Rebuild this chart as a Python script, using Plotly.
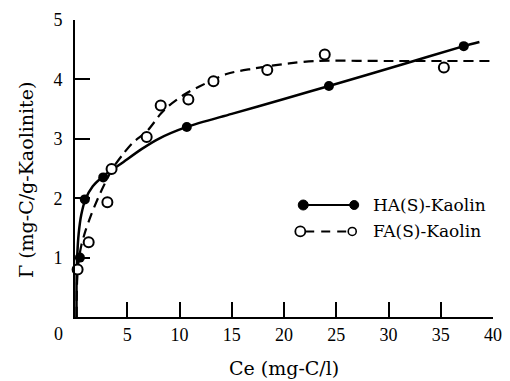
import plotly.graph_objects as go

ha_ce = [0.47, 0.94, 2.7, 10.7, 24.3, 37.2]
ha_gamma = [1.00, 1.98, 2.35, 3.20, 3.89, 4.56]
fa_ce = [0.25, 1.31, 3.1, 3.5, 6.86, 8.2, 10.85, 13.25, 18.4, 23.9, 35.3]
fa_gamma = [0.80, 1.26, 1.93, 2.49, 3.03, 3.56, 3.66, 3.97, 4.16, 4.42, 4.20]

# Fitted curves as drawn in the figure
ha_fit_ce = [0.15, 0.15, 0.22, 0.35, 0.6, 1.0, 1.7, 2.7, 4.4, 6.4, 8.0, 10.7, 15.0, 20.0, 24.3, 31.3, 37.2, 38.7]
ha_fit_g = [0.0, 0.6, 1.05, 1.4, 1.72, 1.98, 2.2, 2.37, 2.58, 2.83, 3.0, 3.2, 3.42, 3.67, 3.89, 4.25, 4.56, 4.63]
fa_fit_ce = [0.15, 0.2, 0.35, 0.6, 1.0, 1.5, 2.2, 3.0, 3.6, 4.5, 5.5, 6.9, 8.2, 9.0, 10.5, 11.9, 14.5, 17.0, 20.5, 23.0, 30.0, 40.0]
fa_fit_g = [0.0, 0.6, 0.95, 1.2, 1.45, 1.7, 2.0, 2.3, 2.5, 2.72, 2.93, 3.13, 3.42, 3.56, 3.75, 3.88, 4.09, 4.18, 4.27, 4.31, 4.31, 4.31]

x_ticks = [5, 10, 15, 20, 25, 30, 35, 40]
y_ticks = [1, 2, 3, 4, 5]
series_names = ["HA(S)-Kaolin", "FA(S)-Kaolin"]

W, H = 510, 381
L, R, T, B = 75, 8.3, 19.5, 63.7
PW, PH = W - L - R, H - T - B

def px(x):
    return (x - L) / PW

def py(y):
    return (H - B - y) / PH

TICKFONT = dict(family="Liberation Serif, Times New Roman, serif", size=18, color="black")
TEXTFONT = "DejaVu Serif, serif"

fig = go.Figure()
fig.add_trace(go.Scatter(x=ha_fit_ce, y=ha_fit_g, mode="lines", line=dict(color="black", width=2.5, shape="spline", smoothing=0.8),
                         showlegend=False, cliponaxis=False, hoverinfo="skip"))
fig.add_trace(go.Scatter(x=fa_fit_ce, y=fa_fit_g, mode="lines", line=dict(color="black", width=2.2, dash="10px,6px", shape="spline", smoothing=0.8),
                         showlegend=False, cliponaxis=False, hoverinfo="skip"))
fig.add_trace(go.Scatter(x=ha_ce, y=ha_gamma, mode="markers", name=series_names[0],
                         marker=dict(symbol="circle", size=10, color="black"), showlegend=False, cliponaxis=False))
fig.add_trace(go.Scatter(x=fa_ce, y=fa_gamma, mode="markers", name=series_names[1],
                         marker=dict(symbol="circle", size=10, color="white", line=dict(color="black", width=2)),
                         showlegend=False, cliponaxis=False))

shapes = []
# custom legend keys
r1, r2 = 205, 231.5
shapes.append(dict(type="line", xref="paper", yref="paper", x0=px(308), x1=px(360), y0=py(r1), y1=py(r1),
                   line=dict(color="black", width=2)))
shapes.append(dict(type="line", xref="paper", yref="paper", x0=px(310), x1=px(354), y0=py(r2), y1=py(r2),
                   line=dict(color="black", width=2, dash="9px,7px")))
def circ(cx, cy, d, fill, lw):
    return dict(type="circle", xref="paper", yref="paper", xsizemode="pixel", ysizemode="pixel",
                xanchor=px(cx), yanchor=py(cy), x0=-d/2, x1=d/2, y0=-d/2, y1=d/2,
                fillcolor=fill, line=dict(color="black", width=lw))
shapes.append(circ(308, r1, 10, "black", 1))
shapes.append(circ(360, r1, 9, "black", 1))
shapes.append(circ(305, r2, 10, "white", 1.8))
shapes.append(circ(358, r2, 8, "white", 1.6))

annotations = [
    dict(text=series_names[0], xref="paper", yref="paper", x=px(377), y=py(r1), xanchor="left", yanchor="middle",
         showarrow=False, font=dict(family=TEXTFONT, size=17, color="black")),
    dict(text=series_names[1], xref="paper", yref="paper", x=px(377), y=py(r2), xanchor="left", yanchor="middle",
         showarrow=False, font=dict(family=TEXTFONT, size=17, color="black")),
    dict(text="Ce (mg-C/l)", xref="paper", yref="paper", x=px(288), y=py(368), xanchor="center", yanchor="middle",
         showarrow=False, font=dict(family=TEXTFONT, size=19, color="black")),
    dict(text="Γ (mg-C/g-Kaolinite)", xref="paper", yref="paper", x=px(25), y=py(180), xanchor="center", yanchor="middle",
         textangle=-90, showarrow=False, font=dict(family=TEXTFONT, size=19, color="black")),
    dict(text="0", xref="paper", yref="paper", x=px(58), y=py(334), xanchor="center", yanchor="middle",
         showarrow=False, font=TICKFONT),
]

fig.update_layout(
    width=W, height=H, margin=dict(l=L, r=R, t=T, b=B, pad=0),
    paper_bgcolor="white", plot_bgcolor="white",
    shapes=shapes, annotations=annotations, showlegend=False,
    xaxis=dict(range=[0, 40], tickvals=x_ticks, ticktext=[str(v) for v in x_ticks], ticks="inside", ticklen=15,
               tickwidth=1.5, tickcolor="black", showline=True, linecolor="black", linewidth=2, showgrid=False,
               zeroline=False, tickfont=TICKFONT, ticklabelstandoff=0, ticklabeloverflow="allow"),
    yaxis=dict(range=[0, 5], tickvals=y_ticks, ticktext=[str(v) for v in y_ticks], ticks="inside", ticklen=15,
               tickwidth=1.5, tickcolor="black", showline=True, linecolor="black", linewidth=2, showgrid=False,
               zeroline=False, tickfont=TICKFONT, ticklabelstandoff=7, ticklabeloverflow="allow"),
)

fig.write_html("out.html", config={"displayModeBar": False})

# remove default page margins so the figure sits at the window's top-left corner
with open("out.html", "r", encoding="utf-8") as f:
    html = f.read()
html = html.replace("<head>", "<head><style>html,body{margin:0;padding:0;overflow:hidden;}</style>", 1)
with open("out.html", "w", encoding="utf-8") as f:
    f.write(html)
